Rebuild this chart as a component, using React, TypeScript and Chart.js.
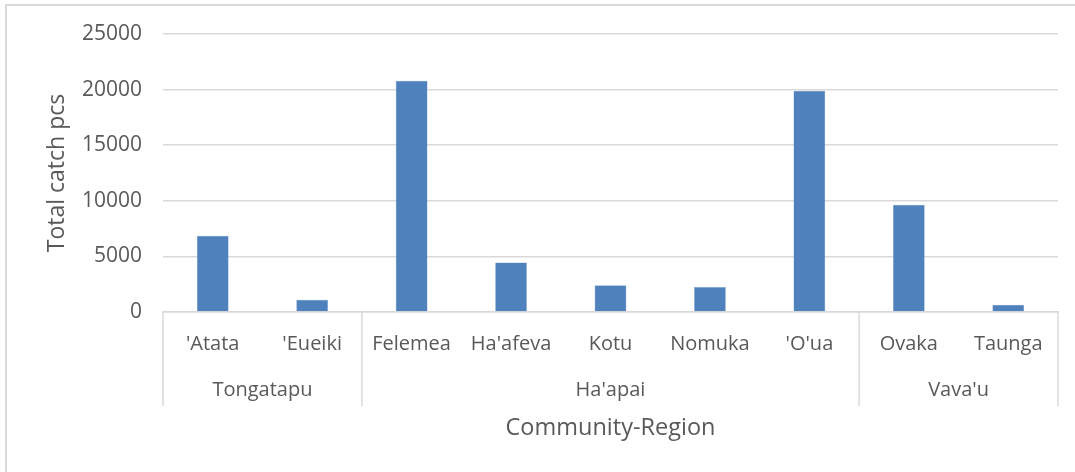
import React, { useEffect, useRef } from "react";
import { Chart, registerables } from "chart.js";

Chart.register(...registerables);

const communities = ["'Atata", "'Eueiki", "Felemea", "Ha'afeva", "Kotu", "Nomuka", "'O'ua", "Ovaka", "Taunga"];
const totalCatch = [6850, 1100, 20800, 4450, 2400, 2250, 19900, 9650, 650];
const regions = ["Tongatapu", "Ha'apai", "Vava'u"];
const regionSizes = [2, 5, 2];
const yMin = 0;
const yMax = 25000;
const yStep = 5000;

const FONT = "'Open Sans', sans-serif";
const TEXT = "#595959";
const GRID = "#d9d9d9";

const groupPlugin = {
  id: "groupAxis",
  beforeDraw(chart: any) {
    const ctx = chart.ctx;
    ctx.save();
    ctx.strokeStyle = GRID;
    ctx.lineWidth = 2;
    ctx.beginPath();
    ctx.moveTo(6, chart.height + 10);
    ctx.lineTo(6, 5);
    ctx.lineTo(chart.width + 10, 5);
    ctx.stroke();
    ctx.restore();
  },
  afterDraw(chart: any) {
    const ctx = chart.ctx;
    const x = chart.scales.x;
    const area = chart.chartArea;
    const half = (area.right - area.left) / communities.length / 2;
    const lineBottom = 406;
    ctx.save();
    ctx.strokeStyle = GRID;
    ctx.lineWidth = 1.5;
    ctx.fillStyle = TEXT;
    ctx.font = "20px " + FONT;
    ctx.textAlign = "center";
    ctx.textBaseline = "middle";
    let start = 0;
    const drawSep = (px: number) => {
      ctx.beginPath();
      ctx.moveTo(px, area.bottom);
      ctx.lineTo(px, lineBottom);
      ctx.stroke();
    };
    regions.forEach((r, i) => {
      const end = start + regionSizes[i] - 1;
      const left = x.getPixelForValue(start) - half;
      const right = x.getPixelForValue(end) + half;
      drawSep(left);
      if (i === regions.length - 1) drawSep(right);
      ctx.fillText(r, (left + right) / 2, 390);
      start = end + 1;
    });
    ctx.restore();
  },
};

export default function App() {
  const ref = useRef<HTMLCanvasElement>(null);
  useEffect(() => {
    if (!ref.current) return;
    const chart = new Chart(ref.current, {
      type: "bar",
      data: {
        labels: communities,
        datasets: [
          {
            label: "Total catch pcs",
            data: totalCatch,
            backgroundColor: "#4F81BD",
            borderColor: "#8aaad6",
            borderWidth: 0.5,
            barPercentage: 0.32,
            categoryPercentage: 1,
          },
        ],
      },
      plugins: [groupPlugin],
      options: {
        animation: false,
        responsive: false,
        devicePixelRatio: 1,
        layout: { padding: { left: 44, top: 34, right: 17, bottom: 0 } },
        plugins: { legend: { display: false }, tooltip: { enabled: false } },
        scales: {
          x: {
            grid: { display: false, drawTicks: false },
            border: { display: true, color: GRID, width: 1.5 },
            ticks: { color: TEXT, font: { family: FONT, size: 20 }, padding: 20, maxRotation: 0, autoSkip: false },
            title: {
              display: true,
              text: "Community-Region",
              color: TEXT,
              font: { family: FONT, size: 23.5 },
              padding: { top: 0, bottom: 30 },
            },
            afterFit: (s: any) => {
              s.height = 472 - 312;
            },
          },
          y: {
            min: yMin,
            max: yMax,
            ticks: {
              stepSize: yStep,
              color: TEXT,
              font: { family: FONT, size: 21 },
              padding: 21,
              callback: (v: any) => String(v),
            },
            grid: { color: GRID, lineWidth: 1.5, drawTicks: false },
            border: { display: false },
            title: {
              display: true,
              text: "Total catch pcs",
              color: TEXT,
              font: { family: FONT, size: 23 },
              padding: { top: 0, bottom: 0 },
            },
            afterFit: (s: any) => {
              s.width = 163 - 44;
            },
          },
        },
      },
    });
    return () => chart.destroy();
  }, []);
  return (
    <div style={{ position: "fixed", left: 0, top: 0, width: 1075, height: 472, background: "#fff" }}>
      <canvas ref={ref} width={1075} height={472} style={{ display: "block", width: 1075, height: 472 }} />
    </div>
  );
}
